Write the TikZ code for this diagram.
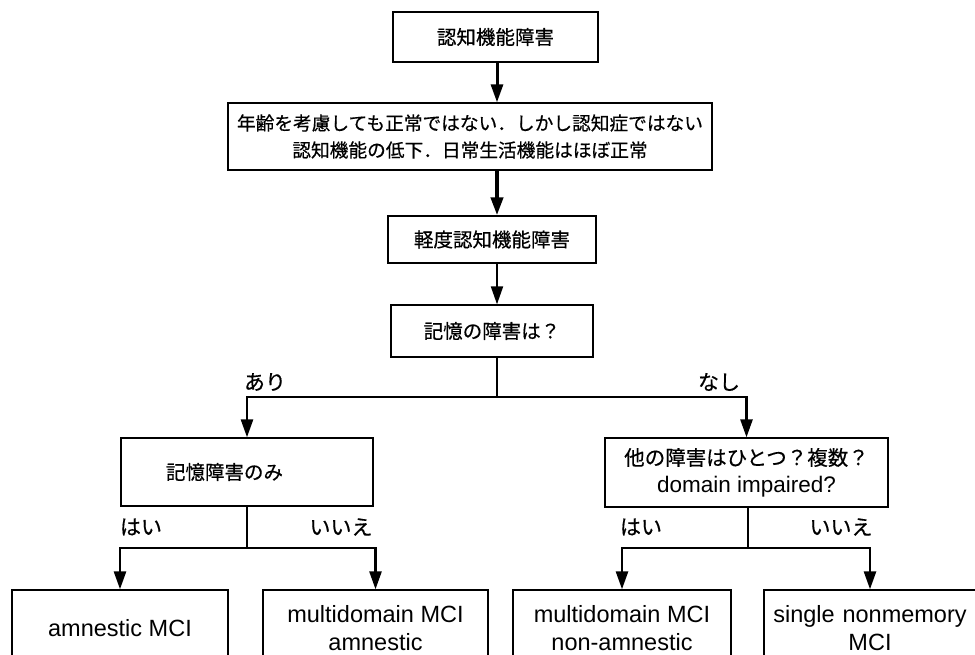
\documentclass[tikz,border=0pt]{standalone}
\usepackage{fontspec}
\setmainfont{Liberation Sans}
\newfontfamily\jp[FakeBold=0.5]{Noto Sans CJK JP}
\usetikzlibrary{arrows.meta}
\begin{document}
\begin{tikzpicture}[x=1pt,y=-1pt,
 box/.style={draw, line width=1.3pt, inner sep=0pt, align=center, fill=white},
 jt/.style={font=\jp\fontsize{19.5}{27}\selectfont},
 lt/.style={font=\fontsize{23.5}{27.5}\selectfont},
 arr/.style={-{Triangle[length=18pt,width=12pt]}, line width=2.6pt},
 ln/.style={line width=2.6pt},
 lbl/.style={font=\jp\fontsize{21}{22}\selectfont, inner sep=0pt}]
\useasboundingbox (0,0) rectangle (975,655);
\clip (0,0) rectangle (975,655);
\fill[white] (0,0) rectangle (975,655);

\node[box,jt,minimum width=205pt,minimum height=50pt] (b1) at (495.5,37) {認知機能障害};
\node[box,font=\jp\fontsize{18.7}{27}\selectfont,minimum width=484pt,minimum height=67pt] (b2) at (470,136.5)
  {年齢を考慮しても正常ではない．しかし認知症ではない\\認知機能の低下．日常生活機能はほぼ正常};
\node[box,jt,minimum width=208pt,minimum height=47pt] (b3) at (492,239.5) {軽度認知機能障害};
\node[box,jt,minimum width=202pt,minimum height=52pt] (b4) at (492,331) {記憶の障害は？};
\node[box,jt,text width=252pt,align=left,minimum height=68pt] (b5) at (247,472)
  {\hspace*{45pt}記憶障害のみ};
\node[box,font=\fontsize{22.5}{27}\selectfont,minimum width=283pt,minimum height=69pt] (b6) at (746.5,472.5)
  {{\jp\fontsize{20.5}{27}\selectfont 他の障害はひとつ？複数？}\\domain impaired?};

\node[box,lt,minimum width=216pt,minimum height=76pt] (bA) at (120,628) {amnestic MCI};
\node[box,lt,minimum width=225pt,minimum height=76pt] (bB) at (375.5,628) {multidomain MCI\\amnestic};
\node[box,lt,minimum width=218pt,minimum height=76pt] (bC) at (622,628) {multidomain MCI\\non-amnestic};
\node[box,lt,minimum width=212pt,minimum height=76pt,text width=212pt] (bD) at (870,628) {single nonmemory\\MCI};

\coordinate (ax) at (497,0);
\draw[arr,line width=3pt] (b1.south -| ax) -- (b2.north -| ax);
\draw[arr,line width=4pt] (b2.south -| ax) -- (b3.north -| ax);
\draw[arr,line width=2pt] (b3.south -| ax) -- (b4.north -| ax);

\coordinate (j1) at (497,397);
\draw[ln] (b4.south -| j1) -- (j1);
\draw[arr] (j1) -| (b5.north);
\draw[arr] (j1) -| (b6.north);

\coordinate (j2) at (247,548);
\draw[ln] (b5.south -| j2) -- (j2);
\draw[arr] (j2) -| (bA.north);
\draw[arr] (j2) -| (bB.north);

\coordinate (j3) at (748,548);
\draw[ln] (b6.south -| j3) -- (j3);
\draw[arr] (j3) -| (bC.north);
\draw[arr] (j3) -| (bD.north);

\node[lbl] (l1) at (265,382) {あり};
\node[lbl] (l2) at (719,382) {なし};
\node[lbl] (l3) at (141,527) {はい};
\node[lbl] (l4) at (341,527) {いいえ};
\node[lbl] (l5) at (641,527) {はい};
\node[lbl] (l6) at (841,527) {いいえ};
\end{tikzpicture}
\end{document}
